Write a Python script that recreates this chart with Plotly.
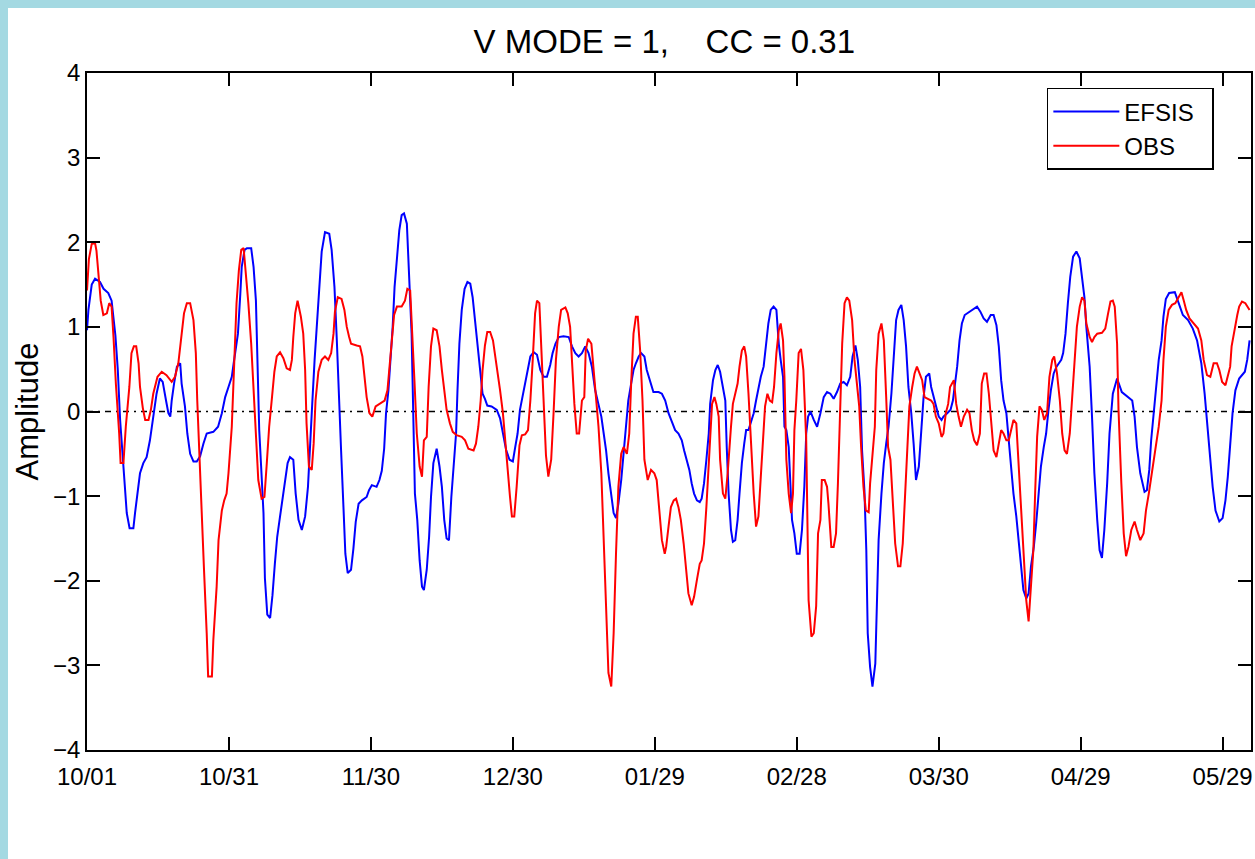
import plotly.graph_objects as go

# ---- data (day since 10/01, amplitude) ----
efsis = [
(0.0,0.96),(0.3,1.2),(1.0,1.5),(1.7,1.57),(2.75,1.53),(3.5,1.45),(4.5,1.4),(5.2,1.31),(6.0,0.9),(6.5,0.5),(7.0,-0.1),(7.5,-0.5),(8.0,-0.93),(8.4,-1.2),(9.0,-1.38),(9.8,-1.38),(10.15,-1.2),(10.6,-0.97),(11.2,-0.73),(11.9,-0.61),(12.6,-0.54),(13.3,-0.34),(14.0,-0.06),(14.7,0.21),(15.4,0.39),(16.0,0.35),(16.7,0.13),(17.2,-0.02),(17.6,-0.06),(17.9,0.13),(18.4,0.33),(19.0,0.53),(19.7,0.57),(20.0,0.33),(20.7,0.06),(21.2,-0.26),(21.8,-0.5),(22.5,-0.59),(23.2,-0.59),(23.9,-0.53),(24.6,-0.38),(25.3,-0.26),(26.7,-0.24),(27.7,-0.18),(28.5,-0.02),(29.2,0.17),(29.9,0.29),(30.6,0.41),
(31.0,0.57),(31.9,0.92),(32.4,1.39),(32.7,1.71),(33.3,1.91),(33.8,1.93),(34.7,1.93),(35.2,1.71),(35.7,1.31),(36.0,0.65),(36.4,-0.22),(36.8,-0.65),(37.3,-1.2),(37.6,-1.97),(38.1,-2.40),(38.7,-2.44),(39.2,-2.17),(39.7,-1.80),(40.2,-1.48),(40.8,-1.24),(41.3,-1.05),(41.9,-0.81),(42.4,-0.61),(42.9,-0.54),(43.6,-0.57),(44.1,-0.97),(44.7,-1.28),(45.4,-1.40),(46.1,-1.24),(46.7,-0.89),(47.2,-0.42),(47.6,0.09),(48.1,0.61),(48.6,1.08),(49.1,1.51),(49.6,1.89),(50.3,2.12),(51.2,2.10),(51.7,1.91),(52.3,1.47),(52.8,0.84),(53.3,0.21),(53.7,-0.46),(54.2,-1.13),(54.6,-1.68),(55.1,-1.91),(55.8,-1.87),(56.3,-1.62),(56.8,-1.30),(57.4,-1.09),(58.1,-1.05),(59.1,-1.01),(59.6,-0.93),(60.2,-0.87),(61.2,-0.89),(61.8,-0.81),
(62.3,-0.70),(62.8,-0.44),(63.2,-0.02),(63.7,0.25),(64.2,0.65),(64.6,1.0),(65.0,1.47),(65.5,1.85),(66.0,2.14),(66.5,2.32),(67.0,2.34),(67.6,2.22),(67.9,1.73),(68.3,1.31),(68.6,0.92),(69.0,-0.02),(69.3,-0.97),(69.8,-1.28),(70.3,-1.76),(70.8,-2.07),(71.2,-2.11),(71.8,-1.87),(72.3,-1.48),(72.7,-1.01),(73.2,-0.61),(73.9,-0.44),(74.5,-0.65),(75.0,-0.89),(75.5,-1.28),(76.0,-1.50),(76.5,-1.52),(77.0,-1.01),(77.5,-0.57),(78.0,-0.26),(78.3,0.25),(78.7,0.80),(79.2,1.20),(79.8,1.45),(80.4,1.53),(81.0,1.51),(81.5,1.35),(82.0,1.08),(82.5,0.77),(83.1,0.45),(83.6,0.21),(84.1,0.15),(84.6,0.07),(85.5,0.06),(86.6,0.02),(87.3,-0.08),(87.9,-0.26),(88.6,-0.46),(89.3,-0.57),(90.0,-0.59),(90.5,-0.42),(91.0,-0.26),(91.5,0.02),(92.0,0.17),(92.6,0.33),(93.1,0.49),
(93.7,0.65),(94.4,0.70),(95.1,0.67),(95.8,0.49),(96.5,0.41),(97.2,0.41),(97.9,0.55),(98.4,0.69),(99.0,0.80),(99.7,0.88),(100.7,0.89),(101.8,0.88),(102.5,0.77),(103.2,0.69),(103.9,0.65),(104.6,0.69),(105.3,0.77),(106.0,0.69),(106.7,0.53),(107.4,0.25),(108.1,0.09),(108.7,-0.06),(109.2,-0.26),(109.7,-0.46),(110.2,-0.73),(110.8,-0.97),(111.3,-1.20),(111.8,-1.26),(112.3,-1.09),(112.9,-0.81),(113.4,-0.46),(113.9,-0.18),(114.4,0.13),(115.0,0.33),(115.5,0.49),(116.0,0.57),(116.6,0.65),(117.1,0.69),(117.8,0.65),(118.3,0.49),(119.0,0.35),(119.7,0.23),(120.8,0.23),(121.5,0.21),(122.2,0.13),(122.9,-0.02),(123.6,-0.12),
(124.3,-0.22),(125.0,-0.26),(125.7,-0.34),(126.2,-0.46),(126.8,-0.57),(127.3,-0.69),(127.8,-0.85),(128.3,-0.97),(128.9,-1.05),(129.5,-1.07),(129.9,-1.03),(130.4,-0.85),(130.9,-0.57),(131.4,-0.26),(131.7,0.09),(132.3,0.37),(132.8,0.49),(133.3,0.55),(133.8,0.47),(134.4,0.29),(134.9,0.13),(135.2,-0.42),(135.6,-0.97),(136.1,-1.40),(136.5,-1.54),(137.0,-1.52),(137.5,-1.28),(137.9,-0.97),(138.4,-0.61),(138.9,-0.38),(139.3,-0.22),(139.8,-0.22),(140.3,-0.14),(140.9,-0.02),(141.4,0.13),(141.9,0.29),(142.4,0.41),(143.0,0.53),(143.5,0.77),(144.0,1.04),(144.5,1.20),(145.1,1.24),(145.7,1.20),(146.2,0.80),(146.6,0.61),(147.1,0.41),(147.4,-0.18),(147.8,-0.22),(148.3,-0.42),(148.6,-0.77),(149.0,-1.28),(149.5,-1.44),(150.0,-1.68),(150.6,-1.68),(151.1,-1.40),(151.6,-0.89),(152.0,-0.26),
(152.4,-0.06),(152.9,0.0),(153.6,-0.10),(154.3,-0.18),(155.0,-0.02),(155.7,0.17),(156.4,0.23),(157.1,0.21),(157.8,0.15),(158.5,0.23),(159.2,0.33),(159.9,0.35),(160.6,0.31),(161.3,0.41),(161.8,0.65),(162.4,0.78),(162.9,0.61),(163.4,0.29),(163.8,-0.46),(164.3,-0.93),(164.7,-1.64),(165.0,-2.62),(165.5,-3.02),(166.0,-3.25),(166.6,-2.98),(166.9,-2.23),(167.3,-1.52),(167.9,-0.97),(168.4,-0.61),(168.9,-0.38),(169.4,-0.18),(170.0,0.21),(170.5,0.72),(171.0,1.08),(171.5,1.20),(172.1,1.26),(172.6,1.08),(173.1,0.77),(173.6,0.29),(174.2,-0.02),(174.7,-0.38),(175.2,-0.81),(175.8,-0.65),(176.3,-0.22),(176.8,0.17),(177.3,0.41),(178.0,0.45),(178.4,0.29),(178.9,0.17),(179.4,0.06),(180.0,-0.06),(180.6,-0.10),(181.0,-0.06),(181.8,-0.02),(182.5,0.02),(183.0,0.13),(183.4,0.29),(183.9,0.53),(184.4,0.84),(184.9,1.04),(185.5,1.14),
(186.5,1.18),(187.4,1.22),(188.1,1.24),(188.8,1.18),(189.5,1.10),(190.2,1.06),(191.0,1.14),(191.6,1.14),(192.2,1.02),(192.7,0.77),(193.2,0.37),(193.7,0.13),(194.3,-0.02),(194.8,-0.34),(195.3,-0.65),(195.8,-0.97),(196.4,-1.24),(196.9,-1.56),(197.4,-1.87),(197.9,-2.11),(198.5,-2.21),(199.0,-2.15),(199.5,-1.83),(200.1,-1.60),(200.6,-1.32),(201.1,-1.01),(201.6,-0.65),(202.2,-0.42),(202.7,-0.26),(203.2,0.02),(203.7,0.25),(204.3,0.45),(204.9,0.53),(205.4,0.57),(205.9,0.61),(206.3,0.69),(206.8,0.92),(207.3,1.28),(207.8,1.59),(208.4,1.83),(209.1,1.89),(209.8,1.81),(210.3,1.59),(210.8,1.35),(211.2,1.0),(211.9,0.53),(212.4,-0.06),(212.9,-0.73),(213.5,-1.28),(214.0,-1.64),(214.5,-1.73),(215.0,-1.40),(215.6,-0.85),(216.1,-0.26),
(216.8,0.21),(217.7,0.39),(218.7,0.23),(220.1,0.17),(220.9,0.13),(221.4,-0.06),(221.9,-0.42),(222.6,-0.73),(223.5,-0.95),(224.0,-0.93),(224.5,-0.69),(224.9,-0.34),(225.4,-0.02),(225.9,0.29),(226.5,0.61),(227.1,0.84),(227.5,1.12),(228.0,1.33),(228.7,1.40),(229.9,1.41),(230.7,1.28),(231.6,1.14),(232.7,1.08),(233.7,0.98),(234.6,0.84),(235.5,0.57),(236.2,0.21),(236.8,-0.18),(237.4,-0.57),(237.9,-0.89),(238.5,-1.17),(239.3,-1.30),(240.0,-1.26),(240.6,-1.05),(241.1,-0.77),(241.6,-0.38),(242.1,-0.02),(242.7,0.25),(243.5,0.39),(244.7,0.47),(245.2,0.61),(245.7,0.84),
]

obs = [
(0.0,1.43),(0.4,1.8),(1.0,1.98),(1.7,1.99),(2.0,1.9),(2.4,1.59),(2.9,1.31),(3.45,1.14),(4.2,1.16),(4.7,1.28),(5.2,1.24),(5.6,0.88),(6.1,0.33),(6.8,-0.26),(7.1,-0.61),(7.7,-0.61),(8.2,-0.18),(8.95,0.29),(9.4,0.69),(9.9,0.77),(10.4,0.77),(10.9,0.57),(11.2,0.29),(11.8,0.04),(12.3,-0.1),(13.0,-0.1),(13.5,0.02),(14.0,0.21),(14.9,0.41),(15.8,0.47),(16.8,0.43),(17.9,0.35),(18.6,0.41),(19.3,0.57),(19.8,0.84),(20.5,1.16),(21.1,1.28),(21.8,1.28),(22.5,1.08),(23.0,0.69),(23.3,0.13),(23.9,-0.81),(24.7,-1.83),(25.3,-2.62),(25.6,-3.13),(26.4,-3.13),(26.7,-2.7),(27.4,-2.07),(27.8,-1.52),(28.5,-1.17),(29.0,-1.05),(29.5,-0.97),
(29.9,-0.73),(30.6,-0.18),(31.1,0.53),(31.6,1.28),(32.1,1.67),(32.6,1.91),(33.1,1.93),(33.6,1.63),(34.1,1.28),(34.7,0.80),(35.2,0.25),(35.7,-0.34),(36.2,-0.81),(36.9,-1.03),(37.5,-1.01),(38.0,-0.61),(38.5,-0.18),(39.1,0.17),(39.6,0.47),(40.1,0.65),(40.8,0.70),(41.5,0.63),(42.2,0.51),(42.9,0.49),(43.3,0.61),(43.6,0.88),(44.0,1.16),(44.5,1.31),(45.2,1.12),(45.7,0.92),(46.1,0.49),(46.4,-0.14),(46.9,-0.65),(47.5,-0.69),(47.9,-0.38),(48.3,0.13),(48.9,0.47),(49.6,0.61),(50.3,0.65),(51.0,0.61),(51.6,0.69),(52.1,0.92),(52.4,1.18),(53.0,1.35),(53.8,1.33),(54.4,1.20),(54.9,1.0),(55.4,0.88),(55.8,0.80),(57.0,0.78),(57.7,0.77),(58.2,0.65),(58.6,0.43),(59.1,0.17),(59.7,-0.02),(60.3,-0.06),(61.0,0.06),(61.9,0.09),(62.9,0.13),
(63.5,0.25),(63.9,0.53),(64.4,0.84),(64.9,1.14),(65.5,1.24),(66.5,1.24),(67.2,1.31),(67.7,1.45),(68.3,1.43),(68.6,1.0),(69.2,0.37),(69.7,-0.26),(70.3,-0.65),(70.8,-0.77),(71.2,-0.34),(71.8,-0.30),(72.2,0.29),(72.7,0.77),(73.2,0.98),(73.9,0.96),(74.5,0.77),(75.0,0.49),(75.5,0.25),(76.0,0.02),(76.7,-0.14),(77.3,-0.24),(78.1,-0.28),(79.2,-0.30),(79.9,-0.34),(80.6,-0.44),(81.7,-0.46),(82.2,-0.38),(82.7,-0.18),(83.2,0.13),(83.6,0.49),(84.1,0.78),(84.6,0.94),(85.2,0.94),(85.8,0.84),(86.3,0.65),(86.7,0.45),(87.3,0.25),(87.9,-0.02),(88.4,-0.38),(88.9,-0.65),(89.4,-1.01),(89.8,-1.24),(90.3,-1.24),(90.8,-0.89),(91.4,-0.40),(91.9,-0.28),(92.6,-0.27),(93.2,-0.22),
(93.7,0.13),(94.2,0.61),(94.7,1.16),(95.1,1.31),(95.6,1.28),(96.0,0.77),(96.5,0.13),(97.0,-0.52),(97.5,-0.77),(98.1,-0.57),(98.6,-0.02),(99.1,0.61),(99.7,1.0),(100.2,1.20),(101.1,1.23),(101.6,1.16),(102.1,1.0),(102.5,0.57),(103.0,0.09),(103.5,-0.26),(104.0,-0.26),(104.6,0.13),(105.1,0.17),(105.4,0.72),(105.9,0.86),(106.6,0.80),(107.0,0.53),(107.5,0.21),(108.1,-0.18),(108.7,-0.73),(109.2,-1.52),(109.7,-2.42),(110.2,-3.09),(110.8,-3.25),(111.3,-2.62),(111.8,-1.68),(112.3,-0.89),(112.9,-0.50),(113.4,-0.42),(114.1,-0.50),(114.6,-0.26),(115.0,0.33),(115.5,0.92),(116.0,1.12),(116.4,1.12),(116.9,0.72),(117.4,0.13),(117.8,-0.57),(118.5,-0.81),(119.2,-0.69),(119.9,-0.73),(120.4,-0.81),(120.9,-1.17),(121.5,-1.52),(122.1,-1.68),
(122.4,-1.60),(122.9,-1.36),(123.4,-1.13),(124.0,-1.05),(124.5,-1.03),(125.0,-1.13),(125.5,-1.28),(126.1,-1.56),(126.6,-1.91),(127.1,-2.15),(127.8,-2.29),(128.3,-2.19),(128.9,-1.99),(129.5,-1.80),(129.9,-1.76),(130.4,-1.56),(130.9,-1.13),(131.4,-0.65),(131.7,-0.26),(132.1,0.09),(132.6,0.17),(133.0,0.09),(133.5,-0.06),(133.8,-0.57),(134.4,-0.97),(134.9,-1.03),(135.4,-0.73),(135.8,-0.34),(136.1,-0.18),(136.5,0.09),(137.0,0.23),(137.5,0.33),(137.9,0.53),(138.4,0.72),(138.9,0.77),(139.3,0.65),(139.8,0.21),(140.3,-0.34),(140.9,-0.97),(141.4,-1.36),(141.9,-1.24),(142.4,-0.77),(142.8,-0.34),(143.3,0.06),(143.8,0.21),(144.3,0.13),(144.8,0.11),(145.2,0.29),(145.7,0.69),(146.2,0.96),(146.6,1.04),(147.1,0.84),(147.4,0.41),(147.8,-0.57),(148.3,-0.97),(148.8,-1.20),(149.2,-0.97),(149.5,-0.22),(149.9,0.13),(150.4,0.69),(150.9,0.74),(151.4,0.49),(152.0,-0.34),
(152.2,-1.2),(152.5,-2.23),(153.1,-2.66),(153.6,-2.62),(154.1,-2.30),(154.5,-1.44),(155.0,-1.28),(155.3,-0.81),(155.9,-0.81),(156.4,-0.89),(156.7,-1.09),(157.3,-1.60),(157.8,-1.60),(158.3,-1.44),(158.7,-0.85),(159.2,0.13),(159.6,0.80),(160.1,1.28),(160.6,1.35),(161.1,1.31),(161.7,1.08),(162.2,0.61),(162.7,0.29),(163.2,0.06),(163.6,-0.42),(164.1,-0.89),(164.6,-1.17),(165.2,-1.19),(165.5,-0.85),(166.0,-0.50),(166.5,-0.18),(166.8,0.49),(167.3,0.92),(167.9,1.04),(168.4,0.84),(168.9,0.17),(169.3,-0.42),(169.8,-0.57),(170.3,-1.05),(170.8,-1.56),(171.4,-1.83),(171.9,-1.83),(172.4,-1.56),(172.8,-1.13),(173.3,-0.61),(173.8,0.06),(174.4,0.29),(174.9,0.45),(175.4,0.53),(175.9,0.45),(176.5,0.37),(177.0,0.17),(177.7,0.15),(178.4,0.13),(178.9,0.09),(179.4,-0.06),(180.0,-0.14),(180.6,-0.30),(181.0,-0.26),(181.5,-0.02),(182.0,0.09),(182.4,0.29),(183.2,0.37),
(183.7,0.09),(184.2,-0.06),(184.7,-0.18),(185.3,-0.06),(186.0,0.02),(186.5,-0.02),(187.0,-0.22),(187.5,-0.34),(188.1,-0.40),(188.7,-0.26),(189.1,0.33),(189.6,0.45),(190.1,0.45),(190.6,0.21),(191.1,-0.18),(191.6,-0.46),(192.2,-0.54),(192.7,-0.38),(193.2,-0.22),(193.7,-0.26),(194.3,-0.34),(194.8,-0.34),(195.3,-0.22),(195.8,-0.10),(196.4,-0.14),(196.9,-0.65),(197.4,-1.05),(197.9,-1.56),(198.5,-2.23),(199.0,-2.48),(199.5,-2.07),(200.0,-1.64),(200.4,-0.93),(200.8,-0.30),(201.3,0.06),(201.8,0.02),(202.3,-0.10),(202.9,-0.02),(203.4,0.41),(204.0,0.61),(204.4,0.65),(205.0,0.45),(205.6,0.13),(206.1,-0.26),(206.6,-0.46),(207.1,-0.50),(207.7,-0.26),(208.2,0.13),(208.7,0.57),(209.2,1.0),(209.8,1.24),(210.3,1.35),(210.8,1.31),(211.2,1.04),(211.9,0.88),(212.4,0.82),(212.9,0.88),(213.5,0.92),
(214.5,0.93),(215.2,0.98),(215.8,1.16),(216.3,1.30),(216.8,1.31),(217.2,1.24),(217.7,0.80),(218.0,0.02),(218.6,-0.85),(219.1,-1.44),(219.6,-1.71),(220.1,-1.60),(220.7,-1.40),(221.4,-1.30),(221.9,-1.40),(222.6,-1.52),(223.3,-1.44),(223.8,-1.17),(224.4,-0.97),(224.9,-0.77),(225.4,-0.57),(225.9,-0.42),(226.5,-0.18),(227.1,0.13),(227.5,0.61),(228.0,1.0),(228.6,1.20),(229.3,1.26),(230.0,1.28),(230.7,1.35),(231.3,1.41),(231.8,1.31),(232.3,1.20),(233.0,1.10),(233.9,1.04),(234.8,0.98),(235.5,0.84),(236.0,0.61),(236.7,0.43),(237.4,0.41),(238.1,0.57),(238.8,0.57),(239.3,0.49),(239.9,0.35),(240.6,0.31),(241.1,0.41),(241.6,0.53),(241.9,0.77),(242.6,1.0),(243.1,1.14),(243.5,1.24),(244.1,1.30),(244.8,1.28),(245.7,1.20),
]

series_names = ["EFSIS", "OBS"]
tick_days = [0, 30, 60, 90, 120, 150, 180, 210, 240]
tick_labels = ["10/01", "10/31", "11/30", "12/30", "01/29", "02/28", "03/30", "04/29", "05/29"]
x_range = [0, 246]
y_range = [-4, 4]
y_ticks = [-4, -3, -2, -1, 0, 1, 2, 3, 4]

FONT = "Liberation Sans, Arial, Helvetica, sans-serif"
PAGE_BG = "#a4d9e2"
PAD = "\u00a0\u00a0"

efsis_x = [p[0] for p in efsis]
efsis_y = [p[1] for p in efsis]
obs_x = [p[0] for p in obs]
obs_y = [p[1] for p in obs]

fig = go.Figure()
fig.add_trace(go.Scatter(x=x_range, y=[0, 0], mode="lines", showlegend=False,
                         hoverinfo="skip",
                         line=dict(color="black", width=1.6, dash="6px,5px,2px,5px")))
fig.add_trace(go.Scatter(x=efsis_x, y=efsis_y, mode="lines", name=series_names[0] + PAD,
                         line=dict(color="#0000ff", width=2)))
fig.add_trace(go.Scatter(x=obs_x, y=obs_y, mode="lines", name=series_names[1] + PAD,
                         line=dict(color="#ff0000", width=2)))

axis_common = dict(showgrid=False, zeroline=False, showline=True, linecolor="black",
                   linewidth=1.6, mirror="ticks", ticks="inside", ticklen=13,
                   tickwidth=1.6, tickcolor="black",
                   tickfont=dict(family=FONT, size=24, color="black"))

W, H = 1247, 851   # figure sits at page offset (8, 8)
fig.update_layout(
    width=W, height=H,
    margin=dict(l=79, r=4, t=65, b=109, autoexpand=False),
    paper_bgcolor="white",
    plot_bgcolor="white",
    title=dict(text="V MODE = 1,    CC = 0.31", x=0.496, xref="paper", xanchor="center",
               y=1 - 33 / H, yref="container", yanchor="middle",
               font=dict(family=FONT, size=33, color="black")),
    xaxis=dict(range=x_range, tickvals=tick_days, ticktext=tick_labels,
               ticklabelstandoff=4, **axis_common),
    yaxis=dict(range=y_range, tickvals=y_ticks,
               title=dict(text="Amplitude", standoff=5,
                          font=dict(family=FONT, size=31, color="black")),
               **axis_common),
    legend=dict(x=0.968, y=0.978, xanchor="right", yanchor="top",
                bgcolor="white", bordercolor="black", borderwidth=1.6,
                font=dict(family=FONT, size=24, color="black"),
                tracegroupgap=0, itemwidth=66),
)

fig.write_html(
    "out.html",
    post_script=("document.body.style.margin='8px 0 0 8px';"
                 "document.body.style.background='" + PAGE_BG + "';"
                 "document.body.style.overflow='hidden';"),
)
